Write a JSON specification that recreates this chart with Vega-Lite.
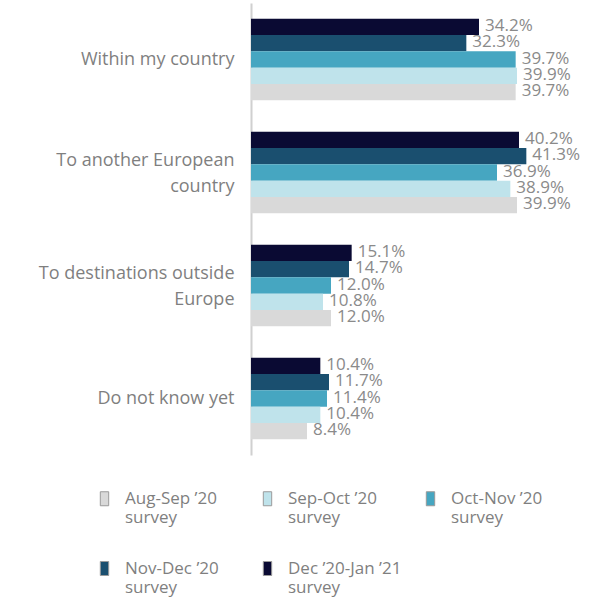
{
  "$schema": "https://vega.github.io/schema/vega-lite/v6.json",
  "width": 300,
  "height": 452,
  "autosize": {"type": "none"},
  "padding": {"left": 251, "top": 3, "right": 47, "bottom": 148},
  "config": {
    "view": {"stroke": null},
    "font": "Open Sans",
    "legend": {
      "orient": "none",
      "legendX": -155,
      "legendY": 487,
      "direction": "horizontal",
      "columns": 3,
      "gridAlign": "all",
      "symbolType": "M-0.6,-1H0.6V1H-0.6Z",
      "symbolSize": 196,
      "symbolStrokeColor": "#9a9a9a",
      "symbolStrokeWidth": 1,
      "labelFontSize": 17,
      "labelColor": "#7f7f7f",
      "labelOffset": 12,
      "labelLimit": 200,
      "labelLineHeight": 24,
      "columnPadding": 20,
      "rowPadding": 33
    }
  },
  "data": {
    "values": [
      {"category": "Within my country", "series": "Dec ’20-Jan ’21", "value": 0.342},
      {"category": "Within my country", "series": "Nov-Dec ’20", "value": 0.323},
      {"category": "Within my country", "series": "Oct-Nov ’20", "value": 0.397},
      {"category": "Within my country", "series": "Sep-Oct ’20", "value": 0.399},
      {"category": "Within my country", "series": "Aug-Sep ’20", "value": 0.397},
      {"category": "To another European country", "series": "Dec ’20-Jan ’21", "value": 0.402},
      {"category": "To another European country", "series": "Nov-Dec ’20", "value": 0.413},
      {"category": "To another European country", "series": "Oct-Nov ’20", "value": 0.369},
      {"category": "To another European country", "series": "Sep-Oct ’20", "value": 0.389},
      {"category": "To another European country", "series": "Aug-Sep ’20", "value": 0.399},
      {"category": "To destinations outside Europe", "series": "Dec ’20-Jan ’21", "value": 0.151},
      {"category": "To destinations outside Europe", "series": "Nov-Dec ’20", "value": 0.147},
      {"category": "To destinations outside Europe", "series": "Oct-Nov ’20", "value": 0.120},
      {"category": "To destinations outside Europe", "series": "Sep-Oct ’20", "value": 0.108},
      {"category": "To destinations outside Europe", "series": "Aug-Sep ’20", "value": 0.120},
      {"category": "Do not know yet", "series": "Dec ’20-Jan ’21", "value": 0.104},
      {"category": "Do not know yet", "series": "Nov-Dec ’20", "value": 0.117},
      {"category": "Do not know yet", "series": "Oct-Nov ’20", "value": 0.114},
      {"category": "Do not know yet", "series": "Sep-Oct ’20", "value": 0.104},
      {"category": "Do not know yet", "series": "Aug-Sep ’20", "value": 0.084}
    ]
  },
  "encoding": {
    "y": {
      "field": "category",
      "type": "nominal",
      "sort": ["Within my country", "To another European country", "To destinations outside Europe", "Do not know yet"],
      "title": null,
      "scale": {"paddingInner": 0.28, "paddingOuter": 0.14},
      "axis": {
        "domainColor": "#d0d0d0",
        "domainWidth": 2,
        "ticks": false,
        "labelFontSize": 18,
        "labelColor": "#7f7f7f",
        "labelPadding": 17,
        "labelLimit": 300,
        "labelLineHeight": 26,
        "labelOffset": {
          "condition": {"test": "datum.value == 'To another European country' || datum.value == 'To destinations outside Europe'", "value": -12},
          "value": 0
        },
        "labelExpr": "datum.label == 'To another European country' ? ['To another European', 'country'] : datum.label == 'To destinations outside Europe' ? ['To destinations outside', 'Europe'] : datum.label"
      }
    },
    "yOffset": {
      "field": "series",
      "type": "nominal",
      "sort": ["Dec ’20-Jan ’21", "Nov-Dec ’20", "Oct-Nov ’20", "Sep-Oct ’20", "Aug-Sep ’20"]
    },
    "x": {
      "field": "value",
      "type": "quantitative",
      "scale": {"domain": [0, 0.45]},
      "axis": null
    }
  },
  "layer": [
    {
      "mark": {"type": "bar"},
      "encoding": {
        "color": {
          "field": "series",
          "type": "nominal",
          "title": null,
          "scale": {
            "domain": ["Aug-Sep ’20", "Sep-Oct ’20", "Oct-Nov ’20", "Nov-Dec ’20", "Dec ’20-Jan ’21"],
            "range": ["#d9d9d9", "#bfe3eb", "#46a6c1", "#1a4f6f", "#0a0a33"]
          },
          "legend": {"labelExpr": "[datum.label, 'survey']"}
        }
      }
    },
    {
      "mark": {"type": "text", "align": "left", "dx": 6, "dy": -1, "fontSize": 17, "color": "#8a8a8a"},
      "encoding": {
        "text": {"field": "value", "type": "quantitative", "format": ".1%"}
      }
    }
  ]
}
